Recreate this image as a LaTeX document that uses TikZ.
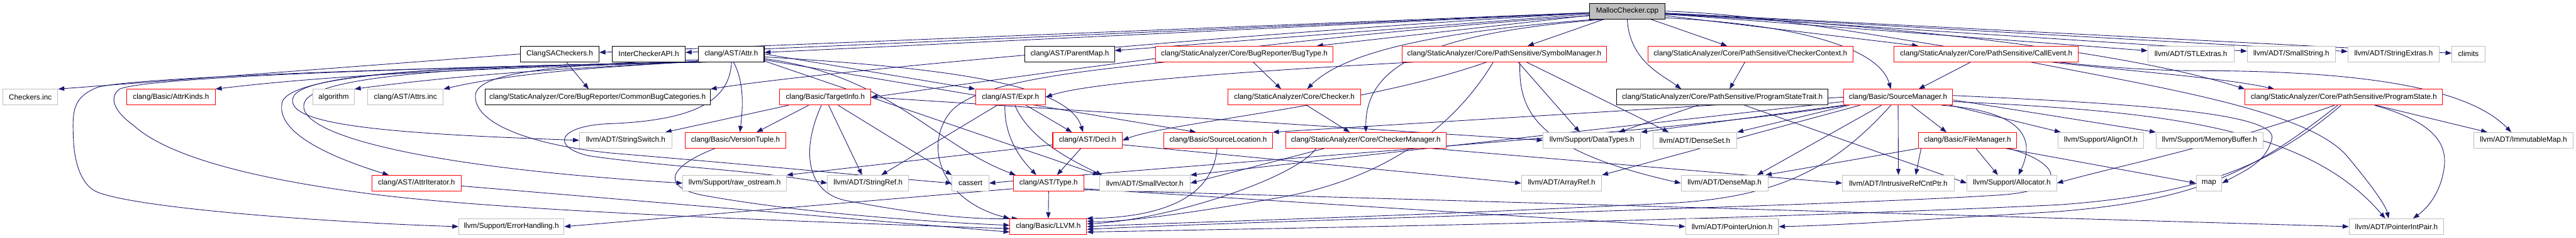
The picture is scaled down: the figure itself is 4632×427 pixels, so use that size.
\documentclass[tikz,border=0pt]{standalone}
\usepackage{fontspec}
\newfontfamily\dfont{Liberation Sans}
\usetikzlibrary{arrows.meta,calc}
\pgfdeclarelayer{bg}
\pgfsetlayers{bg,main}
\definecolor{edgec}{HTML}{191970}
\definecolor{grayb}{HTML}{BFBFBF}
\definecolor{redb}{HTML}{FF0000}
\begin{document}
\begin{tikzpicture}[x=1pt,y=-1pt,
  box/.style={rectangle, fill=white, minimum height=28pt, inner sep=0pt, line width=1.2pt, font=\dfont\fontsize{13.3}{16}\selectfont},
  kbox/.style={box, draw=black},
  rbox/.style={box, draw=redb},
  gbox/.style={box, draw=grayb},
  mbox/.style={box, draw=black, fill=grayb},
  dep/.style={draw=edgec, line width=1pt, -{Triangle[length=11pt,width=8pt]}}]
\useasboundingbox (0,0) rectangle (4632,427);
% row 0
\node[mbox, minimum width=135pt] (m) at (2926,20) {MallocChecker.cpp};
% row 1
\node[kbox, minimum width=141pt] (csa) at (1006.5,97) {ClangSACheckers.h};
\node[kbox, minimum width=131pt] (ica) at (1166.5,97) {InterCheckerAPI.h};
\node[kbox, minimum width=118pt] (attr) at (1315,97) {clang/AST/Attr.h};
\node[kbox, minimum width=161pt] (pmap) at (1923.5,97) {clang/AST/ParentMap.h};
\node[rbox, minimum width=319pt] (bugt) at (2237.5,97) {clang/StaticAnalyzer/Core/BugReporter/BugType.h};
\node[rbox, minimum width=368pt] (symm) at (2705,97) {clang/StaticAnalyzer/Core/PathSensitive/SymbolManager.h};
\node[rbox, minimum width=369pt] (cctx) at (3147.5,97) {clang/StaticAnalyzer/Core/PathSensitive/CheckerContext.h};
\node[rbox, minimum width=331pt] (callev) at (3571.5,97) {clang/StaticAnalyzer/Core/PathSensitive/CallEvent.h};
\node[gbox, minimum width=155pt] (stle) at (3939.5,97) {llvm/ADT/STLExtras.h};
\node[gbox, minimum width=158pt] (smstr) at (4120,97) {llvm/ADT/SmallString.h};
\node[gbox, minimum width=164pt] (strex) at (4304,97) {llvm/ADT/StringExtras.h};
\node[gbox, minimum width=59pt] (clim) at (4438.5,97) {climits};
% row 2
\node[gbox, minimum width=99pt] (chk) at (54.5,174.5) {Checkers.inc};
\node[rbox, minimum width=159pt] (ak) at (307.5,174.5) {clang/Basic/AttrKinds.h};
\node[gbox, minimum width=74pt] (alg) at (600,174.5) {algorithm};
\node[gbox, minimum width=136pt] (attrsinc) at (729,174.5) {clang/AST/Attrs.inc};
\node[kbox, minimum width=405pt] (cbc) at (1074.5,174.5) {clang/StaticAnalyzer/Core/BugReporter/CommonBugCategories.h};
\node[rbox, minimum width=164pt] (ti) at (1484,174.5) {clang/Basic/TargetInfo.h};
\node[rbox, minimum width=126pt] (expr) at (1817,174.5) {clang/AST/Expr.h};
\node[rbox, minimum width=239pt] (checker) at (2327.5,174.5) {clang/StaticAnalyzer/Core/Checker.h};
\node[kbox, minimum width=380pt] (pst) at (3097,174.5) {clang/StaticAnalyzer/Core/PathSensitive/ProgramStateTrait.h};
\node[rbox, minimum width=196pt] (sm) at (3413,174.5) {clang/Basic/SourceManager.h};
\node[rbox, minimum width=355pt] (ps) at (4214.5,174.5) {clang/StaticAnalyzer/Core/PathSensitive/ProgramState.h};
% row 3
\node[gbox, minimum width=166pt] (ssw) at (1125,252) {llvm/ADT/StringSwitch.h};
\node[rbox, minimum width=181pt] (vt) at (1322.5,252) {clang/Basic/VersionTuple.h};
\node[rbox, minimum width=125pt] (decl) at (1955.5,252) {clang/AST/Decl.h};
\node[rbox, minimum width=195pt] (sl) at (2190.5,252) {clang/Basic/SourceLocation.h};
\node[rbox, minimum width=288pt] (cm) at (2456,252) {clang/StaticAnalyzer/Core/CheckerManager.h};
\node[gbox, minimum width=175pt] (dt) at (2862.5,252) {llvm/Support/DataTypes.h};
\node[gbox, minimum width=151pt] (dset) at (3047.5,252) {llvm/ADT/DenseSet.h};
\node[rbox, minimum width=176pt] (fm) at (3538,252) {clang/Basic/FileManager.h};
\node[gbox, minimum width=153pt] (align) at (3777.5,252) {llvm/Support/AlignOf.h};
\node[gbox, minimum width=192pt] (mb) at (3973,252) {llvm/Support/MemoryBuffer.h};
\node[gbox, minimum width=179pt] (imap) at (4537.5,252) {llvm/ADT/ImmutableMap.h};
% row 4
\node[rbox, minimum width=160pt] (ai) at (749,329) {clang/AST/AttrIterator.h};
\node[gbox, minimum width=186pt] (ros) at (1321,329) {llvm/Support/raw\_ostream.h};
\node[gbox, minimum width=146pt] (sref) at (1561,329) {llvm/ADT/StringRef.h};
\node[gbox, minimum width=66pt] (cassert) at (1745,329) {cassert};
\node[rbox, minimum width=127pt] (type) at (1885.5,329) {clang/AST/Type.h};
\node[gbox, minimum width=163pt] (svec) at (2058.5,329) {llvm/ADT/SmallVector.h};
\node[gbox, minimum width=144pt] (aref) at (2808,329) {llvm/ADT/ArrayRef.h};
\node[gbox, minimum width=156pt] (dmap) at (3101,329) {llvm/ADT/DenseMap.h};
\node[gbox, minimum width=201pt] (irc) at (3413.5,329) {llvm/ADT/IntrusiveRefCntPtr.h};
\node[gbox, minimum width=161pt] (alloc) at (3617.5,329) {llvm/Support/Allocator.h};
\node[gbox, minimum width=46pt] (map) at (3972,329) {map};
% row 5
\node[gbox, minimum width=189pt] (eh) at (919.5,407) {llvm/Support/ErrorHandling.h};
\node[rbox, minimum width=138pt] (llvmh) at (1885,407) {clang/Basic/LLVM.h};
\node[gbox, minimum width=167pt] (pu) at (3114.5,407) {llvm/ADT/PointerUnion.h};
\node[gbox, minimum width=170pt] (pip) at (4309,407) {llvm/ADT/PointerIntPair.h};

\begin{pgfonlayer}{bg}
% MallocChecker.cpp
\draw[dep] (m) -- (csa);
\draw[dep] (m) -- (ica);
\draw[dep] (m) -- (attr);
\draw[dep] (m) -- (pmap);
\draw[dep] (m) -- (bugt);
\draw[dep] (m) -- (symm);
\draw[dep] (m) -- (cctx);
\draw[dep] (m) -- (callev);
\draw[dep] (m) -- (stle);
\draw[dep] (m) -- (smstr);
\draw[dep] (m) -- (strex);
\draw[dep] (m) -- (clim);
\draw[dep] (m.183) .. controls (2300,55) and (1500,125) .. (cbc.north east);
\draw[dep] (m.187) .. controls (2300,65) and (1750,150) .. (ti.east);
\draw[dep] (m.195) .. controls (2600,55) and (2420,90) .. ($(checker.north)+(23,0)$);
\draw[dep] (m.200) .. controls (2560,60) and (2455,120) .. (cm.north);
\draw[dep] (m.-90) .. controls (2930,110) and (2990,135) .. ($(pst.north)+(-74,0)$);
\draw[dep] (m.-10) .. controls (3250,45) and (3380,90) .. ($(sm.north)+(-13,0)$);
\draw[dep] (m.-5) .. controls (3450,45) and (3850,100) .. (ps.north west);
\draw[dep] (m.0) .. controls (3300,30) and (3600,125) .. (3950,127) .. controls (4300,127) and (4450,170) .. ($(imap.north)+(-22,0)$);
% ClangSACheckers.h
\draw[dep] ($(csa.south)+(12,0)$) -- ($(cbc.north)+(-16,0)$);
\draw[dep] (csa.west) -- (chk.north east);
% clang/AST/Attr.h
\draw[dep] (attr.192) .. controls (1150,118) and (700,122) .. (ak.north east);
\draw[dep] (attr.192) .. controls (1150,118) and (900,125) .. (alg.north east);
\draw[dep] (attr.192) .. controls (1150,118) and (950,125) .. (attrsinc.north east);
\draw[dep] (attr.195) .. controls (900,118) and (520,125) .. (507,185) .. controls (495,245) and (620,290) .. ($(ai.north)+(-50,0)$);
\draw[dep] (attr.195) .. controls (900,118) and (545,125) .. (527,175) .. controls (510,225) and (700,240) .. (ssw.west);
\draw[dep] (attr.195) .. controls (900,118) and (565,130) .. (547,185) .. controls (530,240) and (750,300) .. (ros.west);
\draw[dep] (attr.198) .. controls (700,122) and (230,140) .. (175,157) .. controls (130,175) and (130,200) .. (132,250) .. controls (134,300) and (150,335) .. (175,345) .. controls (250,375) and (600,400) .. (eh.west);
\draw[dep] (attr.198) .. controls (700,122) and (260,140) .. (215,160) .. controls (195,175) and (205,200) .. (240,225) .. controls (300,280) and (450,320) .. (657,347) .. controls (900,380) and (1500,400) .. (llvmh.183);
\draw[dep] (attr.190) .. controls (1000,116) and (860,130) .. (855,170) .. controls (850,220) and (950,260) .. (1100,275) .. controls (1400,300) and (1600,320) .. (cassert.west);
\draw[dep] (attr.-88) .. controls (1312,170) and (1270,215) .. (1100,222) .. controls (1000,225) and (990,265) .. (1060,280) .. controls (1200,300) and (1350,305) .. (sref.west);
\draw[dep] (attr.-75) .. controls (1340,150) and (1335,200) .. ($(vt.north)+(8,0)$);
\draw[dep] (attr.east) -- (expr.north west);
\draw[dep] (attr.-5) .. controls (1700,122) and (1920,150) .. ($(decl.north)+(-8,0)$);
\draw[dep] (attr.-8) .. controls (1600,135) and (1680,260) .. ($(type.north west)+(5,0)$);
\draw[dep] (attr.-10) -- ($(sl.north)+(-40,0)$);
\draw[dep] (attr.-12) -- (svec.north west);
% TargetInfo.h
\draw[dep] ($(ti.south)+(-66,0)$) -- ($(ssw.north east)+(-12,0)$);
\draw[dep] ($(ti.south)+(-30,0)$) -- ($(vt.north)+(38,0)$);
\draw[dep] ($(ti.south)+(6,0)$) -- ($(sref.north)+(-11,0)$);
\draw[dep] ($(ti.south)+(-7,0)$) .. controls (1440,270) and (1450,345) .. (1520,360) .. controls (1650,385) and (1750,395) .. (llvmh.165);
\draw[dep] ($(ti.south)+(23,0)$) -- (cassert.north west);
\draw[dep] (ti.east) -- (dt.west);
% Expr.h
\draw[dep] ($(expr.south)+(28,0)$) -- ($(decl.north)+(-28,0)$);
\draw[dep] ($(expr.south)+(-10,0)$) .. controls (1805,250) and (1840,290) .. ($(type.north)+(-22,0)$);
\draw[dep] ($(expr.south)+(-24,0)$) -- ($(sref.north east)+(-50,0)$);
\draw[dep] ($(expr.south)+(8,0)$) .. controls (1850,250) and (1930,290) .. ($(svec.north west)+(5,0)$);
% BugType.h
\draw[dep] ($(bugt.south)+(16,0)$) -- ($(checker.north)+(-24,0)$);
\draw[dep] ($(bugt.south west)+(17,0)$) .. controls (1950,128) and (1760,145) .. (1710,200) .. controls (1660,260) and (1690,360) .. (llvmh.north west);
% SymbolManager.h
\draw[dep] ($(symm.south west)+(22,0)$) .. controls (2200,130) and (1950,150) .. (expr.east);
\draw[dep] ($(symm.south)+(-32,0)$) .. controls (2450,190) and (2100,220) .. (decl.east);
\draw[dep] ($(symm.south)+(25,0)$) -- ($(dt.north)+(-22,0)$);
\draw[dep] ($(symm.south)+(40,0)$) -- ($(dset.north)+(-47,0)$);
\draw[dep] ($(symm.south)+(28,0)$) .. controls (2730,200) and (2760,270) .. (dmap.west);
\draw[dep] ($(symm.south)+(-20,0)$) .. controls (2620,220) and (2500,320) .. (2300,355) .. controls (2100,390) and (2000,400) .. (llvmh.8);
% CheckerContext.h, CallEvent.h
\draw[dep] ($(cctx.south)+(-10,0)$) -- ($(pst.north)+(13,0)$);
\draw[dep] ($(callev.south)+(-28,0)$) -- ($(sm.north)+(37,0)$);
\draw[dep] ($(callev.south east)+(-49,0)$) .. controls (3850,130) and (4000,140) .. ($(ps.north west)+(53,0)$);
\draw[dep] ($(callev.south)+(80,0)$) .. controls (3900,160) and (4150,200) .. (4220,280) .. controls (4270,340) and (4290,370) .. ($(pip.north)+(-14,0)$);
% Checker.h, CheckerManager.h
\draw[dep] ($(checker.south)+(22,0)$) -- ($(cm.north)+(-29,0)$);
\draw[dep] ($(cm.south west)+(70,0)$) -- (svec.east);
\draw[dep] ($(cm.south west)+(55,0)$) .. controls (2330,320) and (2100,395) .. (llvmh.4);
\draw[dep] ($(cm.south east)+(-27,0)$) -- (irc.west);
% ProgramStateTrait.h
\draw[dep] ($(pst.south)+(-44,0)$) -- ($(dt.north)+(48,0)$);
\draw[dep] ($(pst.south)+(40,0)$) -- (alloc.west);
% SourceManager.h
\draw[dep] ($(sm.south)+(24,0)$) -- ($(fm.north)+(-38,0)$);
\draw[dep] (sm.south) -- (irc.north);
\draw[dep] ($(sm.south east)+(-5,0)$) -- ($(align.north west)+(5,0)$);
\draw[dep] ($(sm.east)+(0,5)$) -- (mb.north west);
\draw[dep] ($(sm.east)+(0,-3)$) .. controls (3800,185) and (4100,200) .. (4085,250) .. controls (4075,290) and (4040,305) .. (map.east);
\draw[dep] ($(sm.south east)+(-20,0)$) .. controls (3640,200) and (3660,250) .. ($(alloc.north)+(12,0)$);
\draw[dep] (sm.south west) -- (dt.north east);
\draw[dep] ($(sm.south west)+(10,0)$) -- (dset.north east);
\draw[dep] (sm.west) -- (sl.north east);
\draw[dep] ($(sm.south west)+(30,0)$) -- (aref.north east);
\draw[dep] ($(sm.south)+(-30,0)$) -- ($(dmap.north east)+(-20,0)$);
\draw[dep] ($(sm.south)+(-13,0)$) .. controls (3300,300) and (3200,355) .. (3000,365) .. controls (2500,390) and (2100,400) .. (llvmh.0);
\draw[dep] ($(sm.south west)+(5,0)$) .. controls (3000,240) and (2200,290) .. (cassert.east);
\draw[dep] ($(sm.west)+(0,8)$) -- (svec.north east);
\draw[dep] ($(sm.east)+(0,8)$) .. controls (3900,200) and (4150,230) .. ($(pip.north)+(-20,0)$);
% FileManager.h
\draw[dep] ($(fm.south)+(15,0)$) -- ($(alloc.north)+(-25,0)$);
\draw[dep] ($(fm.south west)+(5,0)$) -- ($(irc.north east)+(-70,0)$);
\draw[dep] (fm.south west) -- ($(dmap.north east)+(-5,0)$);
\draw[dep] ($(fm.south east)+(-20,0)$) -- (map.west);
\draw[dep] ($(fm.south east)+(-15,0)$) .. controls (3700,290) and (3730,340) .. (3600,350) .. controls (3300,370) and (2300,395) .. (llvmh.-4);
% ProgramState.h
\draw[dep] ($(ps.south)+(58,0)$) -- ($(imap.north west)+(25,0)$);
\draw[dep] ($(ps.south)+(55,0)$) .. controls (4380,220) and (4400,260) .. (4395,300) .. controls (4390,340) and (4370,370) .. ($(pip.north)+(30,0)$);
\draw[dep] ($(ps.south)+(-17,0)$) .. controls (4000,260) and (3800,300) .. (alloc.east);
\draw[dep] ($(ps.south)+(-11,0)$) .. controls (4050,310) and (3950,360) .. (3700,380) .. controls (3450,395) and (3300,405) .. (pu.east);
\draw[dep] ($(ps.south)+(-5,0)$) .. controls (4080,300) and (3950,350) .. (3700,368) .. controls (3000,400) and (2300,410) .. (llvmh.-8);
% VersionTuple, Decl, SourceLocation, Type, AttrIterator
\draw[dep] ($(vt.south)+(-37,0)$) .. controls (1200,300) and (1190,335) .. (1260,350) .. controls (1450,385) and (1700,400) .. (llvmh.178);
\draw[dep] ($(decl.south)+(-12,0)$) -- ($(type.north)+(15,0)$);
\draw[dep] ($(decl.west)+(0,8)$) -- (ros.north east);
\draw[dep] ($(decl.east)+(0,8)$) -- (aref.west);
\draw[dep] ($(sl.south)+(-2,0)$) .. controls (2180,360) and (2080,390) .. (llvmh.12);
\draw[dep] (type.south) -- (llvmh.north);
\draw[dep] ($(type.west)+(0,10)$) -- (eh.east);
\draw[dep] ($(type.east)+(0,10)$) -- (pu.west);
\draw[dep] ($(type.east)+(0,12)$) -- (pip.west);
\draw[dep] ($(ai.east)+(0,5)$) -- (llvmh.188);
\end{pgfonlayer}
\end{tikzpicture}
\end{document}
